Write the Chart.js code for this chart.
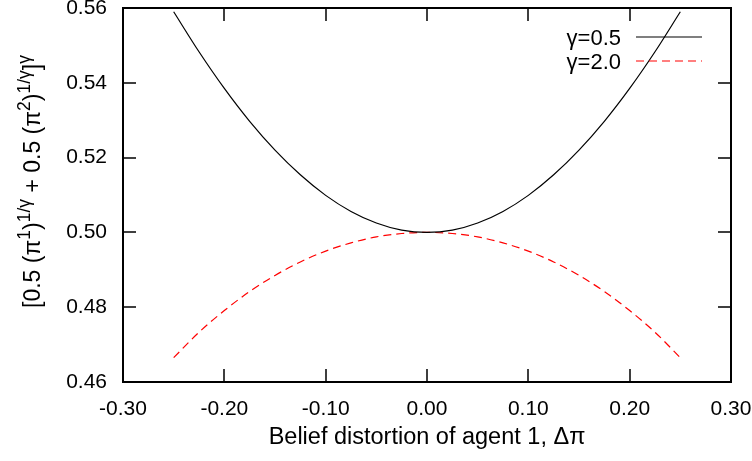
<!DOCTYPE html>
<html>
<head>
<meta charset="utf-8">
<script src="https://cdn.jsdelivr.net/npm/chart.js@4"></script>
<style>
  html, body { margin: 0; padding: 0; background: #fff; }
  canvas { display: block; }
</style>
</head>
<body>
<canvas id="chart" width="752" height="461"></canvas>
<script>
// belief distortion of agent 1 (x) and the two curves
const deltaPi = [-0.25, -0.225, -0.2, -0.175, -0.15, -0.125, -0.1, -0.075, -0.05, -0.025, 0,
  0.025, 0.05, 0.075, 0.1, 0.125, 0.15, 0.175, 0.2, 0.225, 0.25];
const gammaHalf = [0.5590, 0.5483, 0.5385, 0.5297, 0.5220, 0.5154, 0.5099, 0.5056, 0.5025, 0.5006, 0.5000,
  0.5006, 0.5025, 0.5056, 0.5099, 0.5154, 0.5220, 0.5297, 0.5385, 0.5483, 0.5590];
const gammaTwo = [0.4665, 0.4733, 0.4791, 0.4842, 0.4885, 0.4921, 0.4950, 0.4972, 0.4988, 0.4997, 0.5000,
  0.4997, 0.4988, 0.4972, 0.4950, 0.4921, 0.4885, 0.4842, 0.4791, 0.4733, 0.4665];
const seriesLabels = ["γ=0.5", "γ=2.0"];
const xTicks = [-0.3, -0.2, -0.1, 0, 0.1, 0.2, 0.3];
const yTicks = [0.46, 0.48, 0.5, 0.52, 0.54, 0.56];
const xTitle = "Belief distortion of agent 1, Δπ";

const FONT = "'Liberation Sans', Arial, Helvetica, sans-serif";

const toPoints = (ys) => ys.map((y, i) => ({ x: deltaPi[i], y: y }));

// gnuplot-like frame, inward mirrored ticks, key and axis titles
const gnuplotDecor = {
  id: "gnuplotDecor",
  afterDraw(chart) {
    const ctx = chart.ctx;
    const a = chart.chartArea;
    const sx = chart.scales.x, sy = chart.scales.y;
    const tick = 13;
    ctx.save();
    ctx.strokeStyle = "#000";
    ctx.lineWidth = 1.5;
    ctx.beginPath();
    xTicks.forEach((v) => {
      const px = Math.round(sx.getPixelForValue(v));
      ctx.moveTo(px, a.bottom); ctx.lineTo(px, a.bottom - tick);
      ctx.moveTo(px, a.top); ctx.lineTo(px, a.top + tick);
    });
    yTicks.forEach((v) => {
      const py = Math.round(sy.getPixelForValue(v));
      ctx.moveTo(a.left, py); ctx.lineTo(a.left + tick, py);
      ctx.moveTo(a.right, py); ctx.lineTo(a.right - tick, py);
    });
    ctx.stroke();
    ctx.lineWidth = 2;
    ctx.strokeRect(a.left, a.top, a.right - a.left, a.bottom - a.top);

    // key
    ctx.fillStyle = "#000";
    ctx.textAlign = "right";
    ctx.textBaseline = "alphabetic";
    chart.data.datasets.forEach((ds, i) => {
      const ly = 37 + i * 24;
      ctx.font = "22px " + FONT;
      ctx.fillText(ds.label, 621, ly + 8);
      ctx.strokeStyle = ds.borderColor;
      ctx.lineWidth = 1.2;
      ctx.setLineDash(ds.borderDash || []);
      ctx.beginPath();
      ctx.moveTo(636, ly);
      ctx.lineTo(702, ly);
      ctx.stroke();
    });
    ctx.setLineDash([]);

    // x title
    ctx.font = "23.5px " + FONT;
    ctx.textAlign = "center";
    ctx.fillText(xTitle, (a.left + a.right) / 2, 444);

    // y title with superscripts, rotated
    const parts = [
      ["[0.5 (π", 0], ["1", 1], [")", 0], ["1/γ", 1],
      [" + 0.5 (π", 0], ["2", 1], [")", 0], ["1/γ", 1],
      ["]", 0], ["γ", 1]
    ];
    ctx.translate(40, 308);
    ctx.rotate(-Math.PI / 2);
    ctx.textAlign = "left";
    let pos = 0;
    parts.forEach(([t, sup]) => {
      ctx.font = (sup ? "17.5px " : "23px ") + FONT;
      ctx.fillText(t, pos, sup ? -10 : 0);
      pos += ctx.measureText(t).width;
    });
    ctx.restore();
  }
};

new Chart(document.getElementById("chart"), {
  type: "scatter",
  data: {
    datasets: [
      {
        label: seriesLabels[0],
        data: toPoints(gammaHalf),
        showLine: true,
        borderColor: "#000000",
        borderWidth: 1.2,
        pointRadius: 0,
        cubicInterpolationMode: "monotone",
      },
      {
        label: seriesLabels[1],
        data: toPoints(gammaTwo),
        showLine: true,
        borderColor: "#ff0000",
        borderWidth: 1.2,
        borderDash: [8, 5],
        pointRadius: 0,
        cubicInterpolationMode: "monotone",
      },
    ],
  },
  options: {
    responsive: false,
    animation: false,
    devicePixelRatio: 1,
    layout: { padding: { top: 8, right: 21, left: 0, bottom: 0 } },
    plugins: {
      legend: { display: false },
      tooltip: { enabled: false },
    },
    scales: {
      x: {
        type: "linear",
        min: -0.3,
        max: 0.3,
        border: { display: false },
        grid: { display: false, drawTicks: false },
        afterBuildTicks: (s) => { s.ticks = xTicks.map((v) => ({ value: v })); },
        ticks: {
          color: "#000",
          font: { family: FONT, size: 21 },
          padding: 15,
          maxRotation: 0,
          callback: (v) => Number(v).toFixed(2),
        },
        afterFit: (s) => { s.height = 79; s.paddingLeft = 0; s.paddingRight = 0; },
      },
      y: {
        min: 0.46,
        max: 0.56,
        border: { display: false },
        grid: { display: false, drawTicks: false },
        afterBuildTicks: (s) => { s.ticks = yTicks.map((v) => ({ value: v })); },
        ticks: {
          color: "#000",
          font: { family: FONT, size: 21 },
          padding: 16,
          callback: (v) => Number(v).toFixed(2),
        },
        afterFit: (s) => { s.width = 123; s.paddingTop = 0; s.paddingBottom = 0; },
      },
    },
  },
  plugins: [gnuplotDecor],
});
</script>
</body>
</html>
